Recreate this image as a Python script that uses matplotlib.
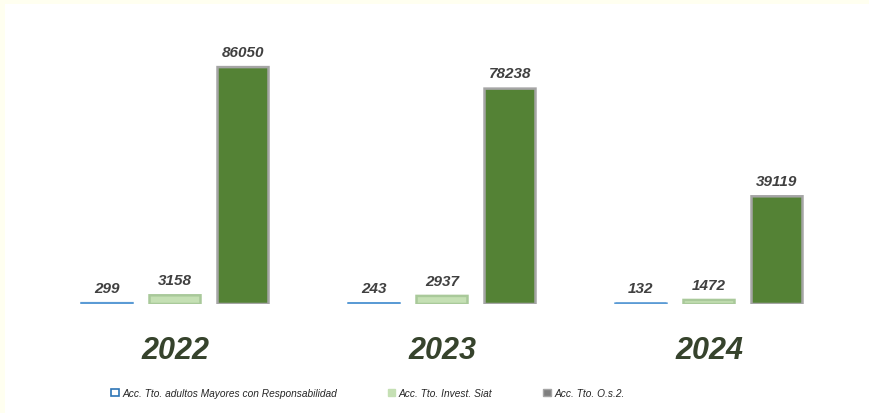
import matplotlib.pyplot as plt
import numpy as np
from matplotlib.patches import Rectangle, Patch

years = ['2022', '2023', '2024']
series_names = ['Acc. Tto. adultos Mayores con Responsabilidad',
                'Acc. Tto. Invest. Siat',
                'Acc. Tto. O.s.2.']
adultos = [299, 243, 132]
siat = [3158, 2937, 1472]
os2 = [86050, 78238, 39119]

fill_colors = ['#5b9bd5', '#c5e0b4', '#548235']
edge_colors = ['#5b9bd5', '#a9c99a', '#a5a5a5']

plt.rcParams['font.family'] = ['Liberation Sans', 'DejaVu Sans']

fig = plt.figure(figsize=(8.7, 4.14), dpi=100)
fig.patch.set_facecolor('white')
# light yellow frame top/left
fig.patches.append(Rectangle((0, 1 - 5 / 414), 1, 5 / 414, transform=fig.transFigure,
                             facecolor='#fffff0', edgecolor='none', zorder=0))
fig.patches.append(Rectangle((0, 0), 5 / 870, 1, transform=fig.transFigure,
                             facecolor='#fffff0', edgecolor='none', zorder=0))

ax = fig.add_axes([0, 109 / 414, 1, 0.665])
ax.set_xlim(-175 / 267, (870 - 175) / 267)
ax.set_ylim(0, 100000)
ax.axis('off')

x = np.arange(len(years))
w = 0.191
off = 0.2547
for i, vals in enumerate([adultos, siat, os2]):
    bars = ax.bar(x + (i - 1) * off, vals, width=w, color=fill_colors[i],
                  edgecolor=edge_colors[i], linewidth=1.8, snap=False)
    for b, v in zip(bars, vals):
        ax.annotate(str(v), (b.get_x() + b.get_width() / 2, v), xytext=(0, 6),
                    textcoords='offset points', ha='center', va='bottom',
                    fontsize=11, fontweight='bold', fontstyle='italic', color='#404040')

for xi, yr in zip(x, years):
    ax.annotate(yr, (xi, 0), xytext=(0, -33), textcoords='offset points',
                ha='center', va='center', fontsize=22, fontweight='bold',
                fontstyle='italic', color='#36432c', annotation_clip=False)

handles = [Patch(facecolor='white', edgecolor='#2e75b6', linewidth=1.2),
           Patch(facecolor='#c5e0b4', edgecolor='#c5e0b4'),
           Patch(facecolor='#7f7f7f', edgecolor='#a5a5a5')]
leg = fig.legend(handles, series_names, loc='center', bbox_to_anchor=(368 / 870, 1 - 394 / 414),
                 ncol=3, frameon=False, handlelength=0.75, handleheight=0.75,
                 handletextpad=0.35, columnspacing=5.0,
                 prop={'style': 'italic', 'size': 7.3})
for t in leg.get_texts():
    t.set_color('#262626')

fig.savefig('out.png', dpi=100)
